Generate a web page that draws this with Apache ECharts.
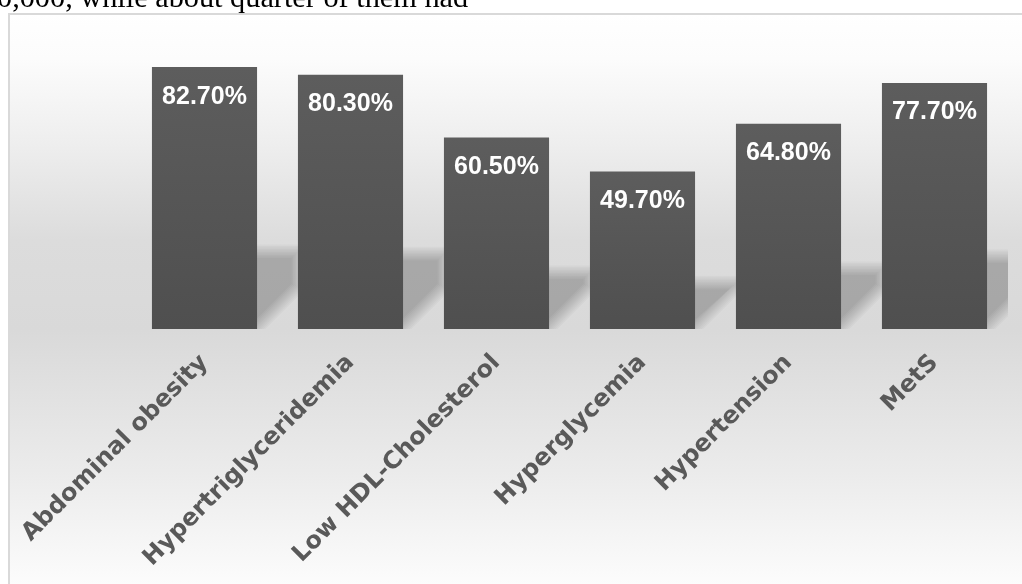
<!DOCTYPE html>
<html>
<head>
<meta charset="utf-8">
<script src="https://cdn.jsdelivr.net/npm/echarts@6/dist/echarts.min.js"></script>
<style>
html,body{margin:0;padding:0;background:#fff;}
#chart{width:1022px;height:584px;}
</style>
</head>
<body>
<div id="chart"></div>
<script>
const categories = ['Abdominal obesity','Hypertriglyceridemia','Low HDL-Cholesterol','Hyperglycemia','Hypertension','MetS'];
const values = [82.7, 80.3, 60.5, 49.7, 64.8, 77.7];
const headerText = '0,000, while about quarter of them had';

const chart = echarts.init(document.getElementById('chart'));

function shadowItem(params, api) {
  const i = api.value(0), v = api.value(1);
  const base = api.coord([i, 0]);
  const top = api.coord([i, v]);
  const bw = api.size([1, 0])[0] * 0.72;
  const R = base[0] + bw / 2, B = base[1], H = B - top[1];
  const D = 42, T = 0.3 * H;
  const layers = [];
  for (let e = -6; e <= 8; e += 1.5) layers.push(e);
  const children = layers.map(e => {
    const s = e * 1.414;
    const topY = B - T + e;
    let cY = B - D + e - s;
    if (cY < topY) cY = topY;
    return {
      type: 'polygon',
      shape: {points: [[R - 12, topY], [R + D - e, topY], [R + D - e, cY], [R - s, B], [R - 12, B]]},
      style: {fill: 'rgba(0,0,0,0.025)'}
    };
  });
  return {type: 'group', children};
}

chart.setOption({
  animation: false,
  graphic: [
    {
      type: 'rect', z: -10, silent: true,
      shape: {x: 9, y: 14, width: 1030, height: 586},
      style: {
        stroke: '#d9d9d9', lineWidth: 2,
        fill: new echarts.graphic.LinearGradient(0, 0, 0, 1, [
          {offset: 0, color: '#ffffff'},
          {offset: 0.078, color: '#fcfcfc'},
          {offset: 0.232, color: '#ededed'},
          {offset: 0.386, color: '#dcdcdc'},
          {offset: 0.539, color: '#d9d9d9'},
          {offset: 0.778, color: '#ebebeb'},
          {offset: 0.973, color: '#fcfcfc'},
          {offset: 1, color: '#ffffff'}
        ])
      }
    },
    {
      type: 'text', z: -5, silent: true,
      x: -3, y: -1,
      style: {text: headerText, font: '30.3px "Liberation Serif"', fill: '#000', verticalAlign: 'middle'}
    }
  ],
  grid: {left: 131.5, right: 14.5, top: 44, bottom: 255, containLabel: false},
  xAxis: {
    type: 'category', data: categories,
    axisLine: {show: false}, axisTick: {show: false},
    axisLabel: {
      rotate: 45, margin: 30, interval: 0,
      color: '#595959', fontFamily: '"DejaVu Sans"', fontWeight: 'bold', fontSize: 24
    }
  },
  yAxis: {type: 'value', min: 0, max: 90, show: false, splitLine: {show: false}},
  series: [
    {
      type: 'custom', z: 1, clip: true,
      data: values.map((v, i) => [i, v]),
      renderItem: shadowItem, silent: true
    },
    {
      type: 'bar', z: 3, data: values, barCategoryGap: '28%',
      itemStyle: {
        color: new echarts.graphic.LinearGradient(0, 0, 0, 1, [
          {offset: 0, color: '#5d5d5d'}, {offset: 1, color: '#4f4f4f'}
        ])
      },
      label: {
        show: true, position: 'insideTop', distance: 17,
        formatter: p => p.value.toFixed(2) + '%',
        color: '#ffffff', fontFamily: 'Liberation Sans', fontWeight: 'bold', fontSize: 25
      }
    }
  ]
});
</script>
</body>
</html>
